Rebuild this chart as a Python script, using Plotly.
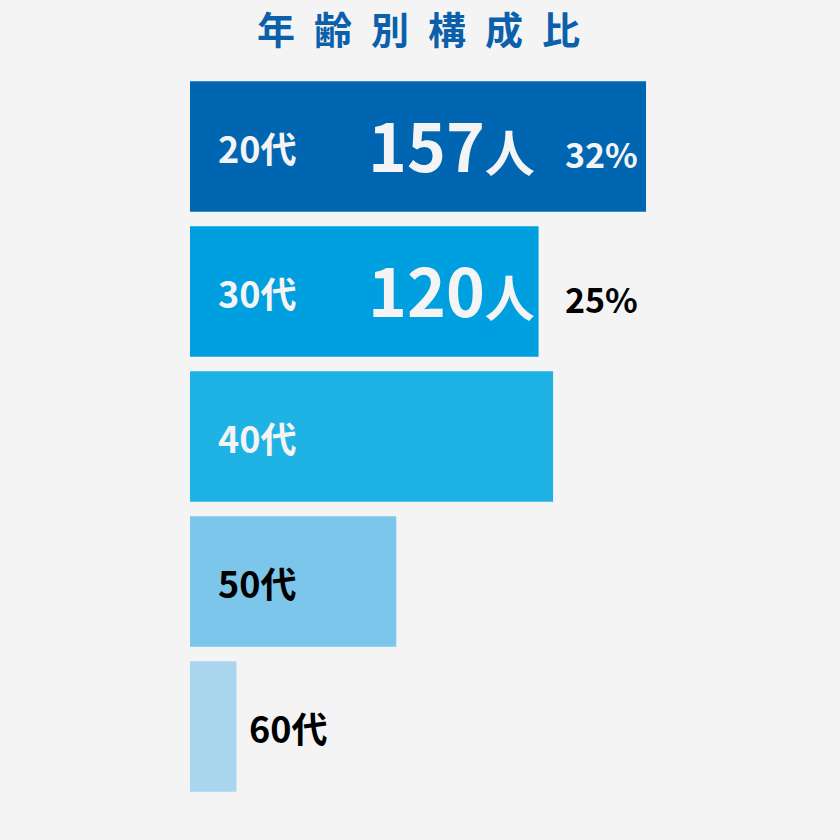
import plotly.graph_objects as go

title_text = "年齢別構成比"
categories = ["20代", "30代", "40代", "50代", "60代"]
counts = [157, 120, 125, 71, 16]
count_labels = ["157", "120", None, None, None]
percent_labels = ["32%", "25%", None, None, None]
colors = ["#0066b2", "#009fe0", "#1fb2e4", "#7bc6ea", "#a9d6ee"]
label_colors = ["#f4f4f4", "#f4f4f4", "#f4f4f4", "#000000", "#000000"]
pct_colors = ["#f4f4f4", "#000000"]

BG = "#f4f4f4"
FONT = "Noto Sans CJK JP"

fig = go.Figure(go.Bar(
    x=counts, y=categories, orientation="h",
    marker=dict(color=colors, line=dict(width=0)),
    hoverinfo="skip",
))

ann = []
for i, (cat, v) in enumerate(zip(categories, counts)):
    inside = i < 4
    ann.append(dict(
        x=0 if inside else v, y=cat, xref="x", yref="y",
        xanchor="left", yanchor="middle",
        xshift=26 if inside else 11, yshift=0,
        text=f"<b>{cat}</b>", showarrow=False,
        font=dict(family=FONT, size=36, color=label_colors[i]),
    ))
    if count_labels[i]:
        ann.append(dict(
            x=0, y=cat, xref="x", yref="y", xanchor="left", yanchor="middle",
            xshift=176, yshift=4,
            text=f"<b>{count_labels[i]}<span style='font-size:50px'>人</span></b>",
            showarrow=False,
            font=dict(family=FONT, size=66, color="#f4f4f4"),
        ))
    if percent_labels[i]:
        ann.append(dict(
            x=(565 - 190 - 2) / 610, y=cat, xref="paper", yref="y",
            xanchor="left", yanchor="middle", yshift=-7,
            text=f"<b>{percent_labels[i]}</b>", showarrow=False,
            font=dict(family=FONT, size=34, color=pct_colors[i]),
        ))

ann.append(dict(
    x=(418 - 190) / 610, y=1 + (74 - 27) / 725, xref="paper", yref="paper",
    xanchor="center", yanchor="middle", showarrow=False,
    text="<b>" + "\u2002".join(title_text) + "</b>",
    font=dict(family=FONT, size=38, color="#0b5fab"),
))

fig.update_layout(
    width=840, height=840,
    margin=dict(l=190, r=40, t=74, b=41),
    paper_bgcolor=BG, plot_bgcolor=BG,
    bargap=0.1,
    showlegend=False,
    xaxis=dict(range=[0, 210], visible=False, fixedrange=True),
    yaxis=dict(autorange="reversed", visible=False, fixedrange=True),
    annotations=ann,
)

fig.write_html(
    "out.html",
    config={"displayModeBar": False},
    post_script="document.body.style.margin='0';document.body.style.background='#f4f4f4';",
)
